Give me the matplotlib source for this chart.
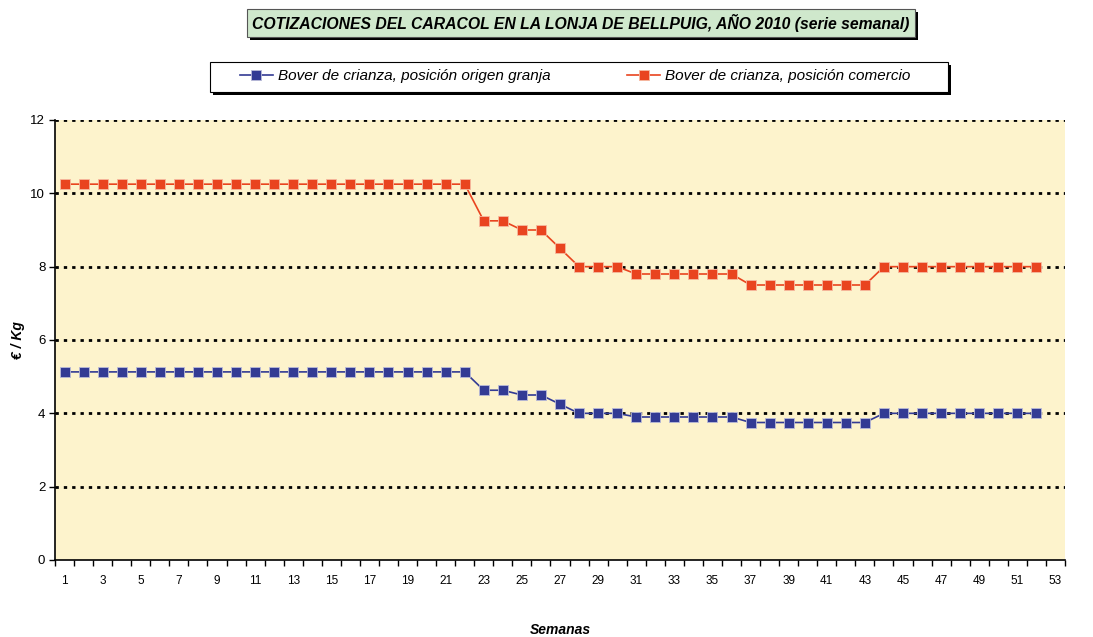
import matplotlib.pyplot as plt
from matplotlib.patches import Rectangle

plt.rcParams['font.family'] = ['Liberation Sans', 'DejaVu Sans']

# precios semanales 2010 (EUR/kg)
semanas = list(range(1, 53))
comercio = [10.25] * 22 + [9.25, 9.25, 9.0, 9.0, 8.5, 8.0, 8.0, 8.0] \
    + [7.8] * 6 + [7.5] * 7 + [8.0] * 9
granja = [5.13] * 22 + [4.63, 4.63, 4.5, 4.5, 4.25, 4.0, 4.0, 4.0] \
    + [3.9] * 6 + [3.75] * 7 + [4.0] * 9

azul = '#333B94'
rojo = '#E9441F'

fig = plt.figure(figsize=(10.93, 6.37), dpi=100)
ax = fig.add_axes([55 / 1093, 1 - 560 / 637, 1010 / 1093, 440 / 637])
ax.set_facecolor('#FDF3CC')

l1, = ax.plot(semanas, granja, color=azul, lw=1.2, marker='s', ms=7.5,
              mec='#B9BBD8', mew=0.6, label='Bover de crianza, posición origen granja')
l2, = ax.plot(semanas, comercio, color=rojo, lw=1.2, marker='s', ms=7.5,
              mec='#F6B9A0', mew=0.6, label='Bover de crianza, posición comercio')

ax.set_ylim(0, 12)
ax.set_xlim(0.5, 53.5)
ax.set_yticks(range(0, 13, 2))
for y in range(2, 13, 2):
    ax.axhline(y, color='black', lw=2, ls=(0, (1.2, 1.8)), zorder=1)

# marcas entre categorias, etiquetas en semanas impares
ax.set_xticks([x + 0.5 for x in range(0, 54)])
ax.set_xticklabels([])
ax.set_xticks(range(1, 54, 2), minor=True)
ax.set_xticklabels([str(x) for x in range(1, 54, 2)], minor=True, fontsize=8.5)
ax.tick_params(axis='x', which='major', direction='out', length=4, width=1)
ax.tick_params(axis='x', which='minor', length=0, pad=11)
ax.tick_params(axis='y', direction='out', length=4, width=1, labelsize=9.5, pad=3)

for s in ['top', 'right']:
    ax.spines[s].set_visible(False)
ax.spines['left'].set_linewidth(1.2)
ax.spines['bottom'].set_linewidth(1.2)

fig.text(18 / 1093, 1 - 340 / 637, '€ / Kg', ha='center', va='center', rotation=90,
         fontsize=10, fontweight='bold', fontstyle='italic')
fig.text(560 / 1093, 1 - 630 / 637, 'Semanas', ha='center', va='center',
         fontsize=10, fontweight='bold', fontstyle='italic')

# titulo con recuadro y sombra
titulo = 'COTIZACIONES DEL CARACOL EN LA LONJA DE BELLPUIG, AÑO 2010 (serie semanal)'
t = fig.text(581 / 1093, 1 - 23 / 637, titulo, ha='center', va='center', fontsize=11.3,
             fontweight='bold', fontstyle='italic', zorder=3,
             bbox=dict(boxstyle='square,pad=0.35', fc='#CFE8CC', ec='#555555', lw=0.8))

# leyenda sin marco; el recuadro y su sombra se dibujan aparte
leg = fig.legend(handles=[l1, l2], loc='center', bbox_to_anchor=(575 / 1093, 1 - 76 / 637),
                 ncol=2, frameon=False, prop={'style': 'italic', 'size': 11},
                 handlelength=2.2, columnspacing=5, handletextpad=0.3, borderaxespad=0)
fig.patches.append(Rectangle((213, 637 - 95), 738, 30, transform=None,
                             fc='black', ec='none', zorder=1))
fig.patches.append(Rectangle((210, 637 - 92), 738, 30, transform=None,
                             fc='white', ec='black', lw=0.8, zorder=1.5))

fig.canvas.draw()
bb = t.get_bbox_patch().get_window_extent()
fig.patches.append(Rectangle((bb.x0 + 3, bb.y0 - 3), bb.width, bb.height,
                             transform=None, fc='black', ec='none', zorder=2))

fig.savefig('out.png', dpi=100)
